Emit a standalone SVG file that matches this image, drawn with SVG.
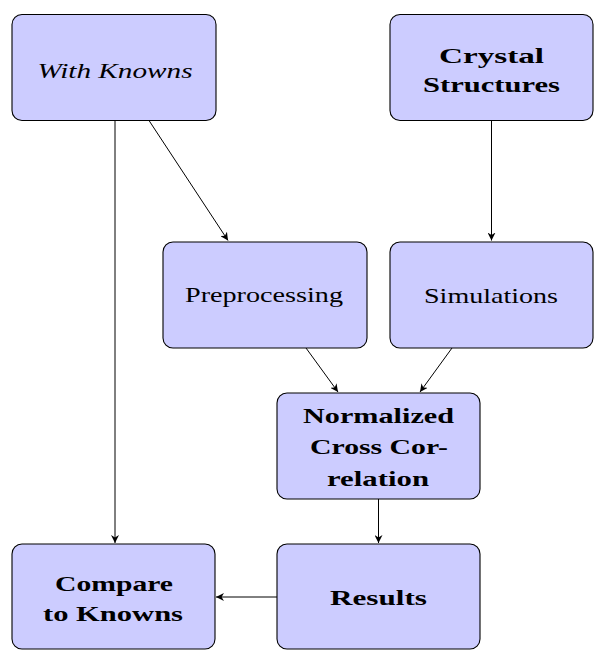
<svg xmlns="http://www.w3.org/2000/svg" width="597" height="653" viewBox="0 0 597 653">
<style>
.box{fill:#ccccff;stroke:#000;stroke-width:1.1}
.t{font-family:"Liberation Serif","DejaVu Serif",serif;font-size:22px;fill:#000;text-anchor:middle}
.b{font-weight:bold}
.i{font-style:italic}
.c{fill:none;stroke:#000;stroke-width:1}
</style>
<defs>
<marker id="ah" viewBox="0 0 10 10" refX="10" refY="5" markerWidth="8" markerHeight="8" markerUnits="userSpaceOnUse" orient="auto">
<path d="M0,0 L10,5 L0,10 L3,5 Z" fill="#000"/>
</marker>
</defs>
<g id="connectors">
<line class="c" x1="115" y1="120.5" x2="115" y2="543" marker-end="url(#ah)"/>
<line class="c" x1="149" y1="120.5" x2="228" y2="240.5" marker-end="url(#ah)"/>
<line class="c" x1="491.5" y1="120.5" x2="491.5" y2="240.5" marker-end="url(#ah)"/>
<line class="c" x1="306" y1="348" x2="338" y2="392" marker-end="url(#ah)"/>
<line class="c" x1="452" y1="348" x2="420" y2="392" marker-end="url(#ah)"/>
<line class="c" x1="378.5" y1="499" x2="378.5" y2="543" marker-end="url(#ah)"/>
<line class="c" x1="277" y1="597" x2="216" y2="597" marker-end="url(#ah)"/>
</g>
<g id="withknowns">
<rect class="box" x="12" y="14.5" width="204" height="106" rx="10"/>
<text class="t i" x="115" y="78" textLength="155" lengthAdjust="spacingAndGlyphs">With Knowns</text>
</g>
<g id="crystal">
<rect class="box" x="390" y="14.5" width="203" height="106" rx="10"/>
<text class="t b" x="491.5" y="63" textLength="105" lengthAdjust="spacingAndGlyphs">Crystal</text>
<text class="t b" x="491.5" y="92" textLength="137" lengthAdjust="spacingAndGlyphs">Structures</text>
</g>
<g id="preprocessing">
<rect class="box" x="163" y="242" width="204" height="106" rx="10"/>
<text class="t" x="264" y="302" textLength="158" lengthAdjust="spacingAndGlyphs">Preprocessing</text>
</g>
<g id="simulations">
<rect class="box" x="390" y="242" width="203" height="106" rx="10"/>
<text class="t" x="491" y="303" textLength="134" lengthAdjust="spacingAndGlyphs">Simulations</text>
</g>
<g id="ncc">
<rect class="box" x="277" y="393" width="203" height="106" rx="10"/>
<text class="t b" x="378.5" y="423" textLength="151" lengthAdjust="spacingAndGlyphs">Normalized</text>
<text class="t b" x="379" y="454" textLength="138" lengthAdjust="spacingAndGlyphs">Cross Cor-</text>
<text class="t b" x="378" y="486" textLength="102" lengthAdjust="spacingAndGlyphs">relation</text>
</g>
<g id="results">
<rect class="box" x="277" y="544" width="203" height="105" rx="10"/>
<text class="t b" x="378.5" y="605" textLength="97" lengthAdjust="spacingAndGlyphs">Results</text>
</g>
<g id="compare">
<rect class="box" x="12" y="544" width="203" height="105" rx="10"/>
<text class="t b" x="114" y="591" textLength="118" lengthAdjust="spacingAndGlyphs">Compare</text>
<text class="t b" x="113" y="621" textLength="140" lengthAdjust="spacingAndGlyphs">to Knowns</text>
</g>
</svg>
